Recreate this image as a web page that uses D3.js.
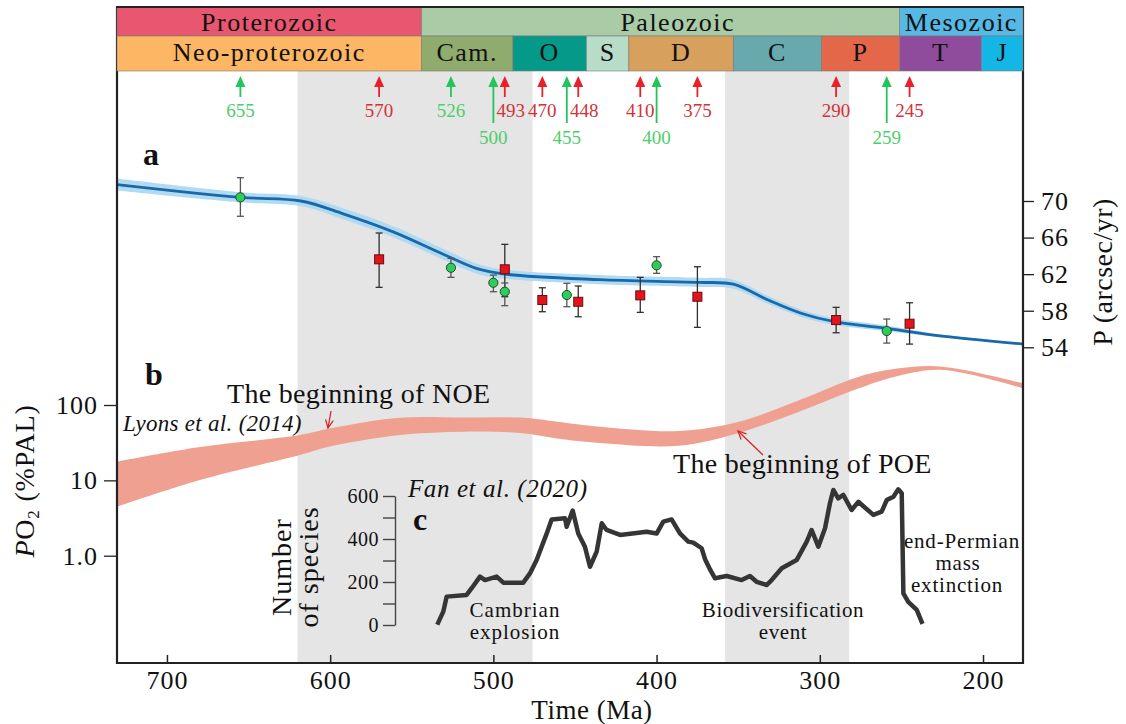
<!DOCTYPE html>
<html><head><meta charset="utf-8">
<script src="https://cdn.jsdelivr.net/npm/d3@7"></script>
<style>
body{margin:0;background:#fff;}
svg{display:block;}
text{fill:#111;}
</style>
</head><body>
<svg id="chart" width="1126" height="724"></svg>
<script>
// ---------------- DATA ----------------
const timeDomain = [730.6, 175.5];               // Ma, left -> right
const timeTicks = [700, 600, 500, 400, 300, 200];

const eraNames  = ["Proterozoic", "Paleozoic", "Mesozoic"];
const eraBounds = [730.6, 544, 251, 175.5];
const periodNames  = ["Neo-proterozoic", "Cam.", "O", "S", "D", "C", "P", "T", "J"];
const periodBounds = [730.6, 544, 488, 443, 417, 353, 299, 251, 201, 175.5];

const greenAges = [655, 526, 500, 455, 400, 259];
const redAges   = [570, 493, 470, 448, 410, 375, 290, 245];

const grayBands = [[620, 476], [358, 282]];

// panel a : precession constant P (arcsec/yr)
const pTicks = [54, 58, 62, 66, 70];
const curveAge = [730.6, 655, 618, 592, 561, 531, 510, 493, 435, 375, 353, 332, 311, 291, 260, 229, 175.5];
const curveP   = [71.8, 70.4, 70.0, 68.6, 66.6, 64.2, 62.6, 62.0, 61.4, 61.1, 60.9, 59.2, 57.7, 56.8, 56.1, 55.3, 54.35];
const curveUnc = [0.65, 0.55, 0.55, 0.6, 0.6, 0.6, 0.55, 0.5, 0.5, 0.5, 0.5, 0.45, 0.4, 0.35, 0.3, 0.15, 0.05];

const greenPtAge = [655, 526, 500, 493, 455, 400, 259];
const greenPtP   = [70.40, 62.70, 61.06, 60.08, 59.72, 62.96, 55.78];
const greenPtLo  = [68.33, 61.65, 60.08, 58.55, 58.44, 62.09, 54.46];
const greenPtHi  = [72.55, 63.73, 61.90, 61.03, 61.00, 63.91, 57.09];

const redPtAge = [570, 493, 470, 448, 410, 375, 290, 245];
const redPtP   = [63.62, 62.53, 59.17, 58.98, 59.68, 59.53, 56.98, 56.58];
const redPtLo  = [60.56, 59.53, 57.89, 57.34, 57.82, 56.18, 55.59, 54.35];
const redPtHi  = [66.50, 65.26, 60.51, 60.70, 61.65, 62.81, 58.37, 58.87];

// panel b : PO2 (%PAL), Lyons et al. (2014)
const o2Ticks = [1, 10, 100];
const o2Age = [730.6, 679.8, 618.5, 598.9, 557.2, 518, 483.7, 461, 434.7, 386.3, 349.5, 312.7, 276, 251.5, 224.6, 175.5];
const o2Hi  = [17.7, 27.7, 40, 49.5, 67.8, 68, 68, 60, 51.5, 45.2, 60, 116, 238, 307, 323, 194];
const o2Lo  = [4.46, 10.1, 21.7, 28.5, 40, 44.2, 42.5, 36, 31.3, 28.8, 42.5, 81.5, 167, 245, 292, 167];

// panel c : number of species, Fan et al. (2020)
const speciesTicks = [0, 100, 200, 300, 400, 500, 600];
const speciesAge = [533.8, 530.7, 528.6, 516.4, 513.3, 508.2, 505.1, 498.0, 493.9, 481.7, 477.6, 473.5, 467.3, 464.3, 456.1, 455.1, 451.4, 448.0, 443.9, 440.8, 436.7, 433.6, 430.6, 422.4, 406.1, 399.9, 395.9, 390.8, 385.7, 380.6, 377.5, 372.4, 370.3, 367.1, 364.2, 361.2, 357, 347.9, 342.8, 338.7, 332.5, 329.5, 323.3, 314.2, 308.0, 305.0, 300.9, 296.8, 293.8, 291.7, 288.7, 285.6, 280.5, 276.4, 267.2, 262.1, 259.0, 254.9, 251.9, 249.8, 248.8, 245.8, 240.6, 237.6];
const speciesNum = [11, 62, 132, 140, 171, 225, 209, 225, 197, 197, 240, 302, 426, 491, 496, 457, 532, 426, 364, 271, 341, 473, 442, 419, 434, 426, 481, 491, 426, 388, 383, 357, 306, 256, 217, 222, 228, 209, 228, 201, 186, 209, 264, 302, 388, 442, 364, 450, 566, 628, 589, 605, 535, 573, 512, 527, 581, 597, 631, 613, 147, 108, 70, 15];

// ---------------- FONT PICK ----------------
function fontAvailable(name) {
  const ctx = document.createElement("canvas").getContext("2d");
  const s = "The beginning of NOE 0123456789 mwil";
  for (const base of ["monospace", "sans-serif"]) {
    ctx.font = `72px ${base}`; const w0 = ctx.measureText(s).width;
    ctx.font = `72px "${name}", ${base}`; const w1 = ctx.measureText(s).width;
    if (Math.abs(w1 - w0) > 0.5) return true;
  }
  return false;
}
const serifCands = ["Liberation Serif", "Times New Roman", "Tinos", "Nimbus Roman", "FreeSerif", "Noto Serif", "DejaVu Serif"];
const FOUND = serifCands.find(fontAvailable) || "serif";
const SERIF = `"${FOUND}", serif`;

// ---------------- STYLE ----------------
const eraColors = ["#E9566F", "#A9CBA6", "#56B9E5"];
const periodColors = ["#FDB664", "#8FAB6E", "#05998A", "#B7DDC9", "#D7A05C", "#68A9AE", "#E4674A", "#8F4C9C", "#14B6E5"];
const eraLabelDx = {"Paleozoic": 17};
const GREEN = "#22C55A", RED = "#E8202A", GREEN_TXT = "#4CCF6A", RED_TXT = "#D0333A";

const X0 = 117, X1 = 1023, YTOP = 7, YMID = 36, YBARB = 71, YBOT = 663;

const svg = d3.select("#chart");
svg.append("rect").attr("width", 1126).attr("height", 724).attr("fill", "#fff");

const x = d3.scaleLinear().domain(timeDomain).range([X0, X1]);
const yP = d3.scaleLinear().domain([54, 70]).range([347.3, 201]);
const yO2 = d3.scaleLog().domain([1, 100]).range([555.7, 405]);
const yC = d3.scaleLinear().domain([0, 600]).range([625, 496]);
const smooth = d3.curveCatmullRom.alpha(0.5);

svg.append("defs").append("clipPath").attr("id", "plot")
  .append("rect").attr("x", X0).attr("y", YBARB).attr("width", X1 - X0).attr("height", YBOT - YBARB);
const plot = svg.append("g").attr("clip-path", "url(#plot)");

// gray bands
plot.selectAll("rect.band").data(grayBands).join("rect")
  .attr("x", d => x(d[0])).attr("width", d => x(d[1]) - x(d[0]))
  .attr("y", YBARB).attr("height", YBOT - YBARB).attr("fill", "#E5E5E5");

// panel b : pink band
const o2Data = o2Age.map((a, i) => ({a, lo: o2Lo[i], hi: o2Hi[i]}));
plot.append("path").datum(o2Data)
  .attr("d", d3.area().x(d => x(d.a)).y0(d => yO2(d.lo)).y1(d => yO2(d.hi)).curve(smooth))
  .attr("fill", "#EFA090");

// panel c : species curve
const spData = speciesAge.map((a, i) => ({a, v: speciesNum[i]}));
plot.append("path").datum(spData)
  .attr("d", d3.line().x(d => x(d.a)).y(d => yC(d.v)))
  .attr("fill", "none").attr("stroke", "#353535").attr("stroke-width", 4.5)
  .attr("stroke-linejoin", "round").attr("stroke-linecap", "square");

const cAxis = svg.append("g").attr("transform", `translate(${395},0)`)
  .call(d3.axisLeft(yC).tickValues(speciesTicks).tickSize(12).tickSizeOuter(0).tickPadding(4)
    .tickFormat(d => d % 200 === 0 ? d : ""));
cAxis.select(".domain").attr("stroke", "#444").attr("stroke-width", 1.4);
cAxis.selectAll(".tick line").attr("stroke", "#444").attr("stroke-width", 1.4);
cAxis.selectAll(".tick text").attr("font-size", 20).attr("fill", "#111").attr("letter-spacing", 0.5);

// panel a : blue curve
const cData = curveAge.map((a, i) => ({a, p: curveP[i], u: curveUnc[i]}));
plot.append("path").datum(cData)
  .attr("d", d3.area().x(d => x(d.a)).y0(d => yP(d.p - d.u)).y1(d => yP(d.p + d.u)).curve(smooth))
  .attr("fill", "#AED9F1").attr("opacity", 0.95);
plot.append("path").datum(cData)
  .attr("d", d3.line().x(d => x(d.a)).y(d => yP(d.p)).curve(smooth))
  .attr("fill", "none").attr("stroke", "#1769AC").attr("stroke-width", 2.8);

// error bars + points
function errBars(ages, lo, hi, color) {
  const g = svg.append("g");
  ages.forEach((a, i) => {
    const px = x(a);
    g.append("line").attr("x1", px).attr("x2", px).attr("y1", yP(lo[i])).attr("y2", yP(hi[i]))
      .attr("stroke", color).attr("stroke-width", 1.3);
    [lo[i], hi[i]].forEach(v => g.append("line").attr("x1", px - 3.5).attr("x2", px + 3.5)
      .attr("y1", yP(v)).attr("y2", yP(v)).attr("stroke", color).attr("stroke-width", 1.3));
  });
}
errBars(redPtAge, redPtLo, redPtHi, "#2f2f2f");
errBars(greenPtAge, greenPtLo, greenPtHi, "#555");
svg.append("g").selectAll("rect").data(redPtAge).join("rect")
  .attr("x", d => x(d) - 4.5).attr("y", (d, i) => yP(redPtP[i]) - 4.5)
  .attr("width", 9).attr("height", 9).attr("fill", "#E3141C").attr("stroke", "#6a0d0d").attr("stroke-width", 1);
svg.append("g").selectAll("circle").data(greenPtAge).join("circle")
  .attr("cx", d => x(d)).attr("cy", (d, i) => yP(greenPtP[i])).attr("r", 4.6)
  .attr("fill", "#2ECC5A").attr("stroke", "#1d4d27").attr("stroke-width", 1);

// ---------------- AXES ----------------
const xAxis = svg.append("g").attr("transform", `translate(0,${YBOT})`)
  .call(d3.axisBottom(x).tickValues(timeTicks).tickSizeInner(-8).tickSizeOuter(0).tickFormat(d3.format("d")));
xAxis.select(".domain").remove();
xAxis.selectAll(".tick line").attr("stroke", "#222").attr("stroke-width", 1.5);
xAxis.selectAll(".tick text").attr("font-size", 26).attr("fill", "#111")
  .attr("y", 26).attr("dy", 0).attr("letter-spacing", 1);

const rAxis = svg.append("g").attr("transform", `translate(${X1},0)`)
  .call(d3.axisRight(yP).tickValues(pTicks).tickSize(11).tickPadding(7));
rAxis.select(".domain").remove();
rAxis.selectAll(".tick line").attr("stroke", "#222").attr("stroke-width", 1.3);
rAxis.selectAll(".tick text").attr("font-size", 26).attr("fill", "#111").attr("letter-spacing", 1);

const lAxis = svg.append("g").attr("transform", `translate(${X0},0)`)
  .call(d3.axisLeft(yO2).tickValues(o2Ticks).tickSize(13).tickPadding(6).tickFormat(d => d === 1 ? "1.0" : d));
lAxis.select(".domain").remove();
lAxis.selectAll(".tick line").attr("stroke", "#222").attr("stroke-width", 1.3);
lAxis.selectAll(".tick text").attr("font-size", 26).attr("fill", "#111").attr("letter-spacing", 1);

// frame lines
svg.append("line").attr("x1", X0).attr("x2", X1).attr("y1", YBOT).attr("y2", YBOT).attr("stroke", "#222").attr("stroke-width", 2.2);
svg.append("line").attr("x1", X0).attr("x2", X0).attr("y1", YTOP).attr("y2", YBOT + 1).attr("stroke", "#222").attr("stroke-width", 2.2);
svg.append("line").attr("x1", X1).attr("x2", X1).attr("y1", YTOP).attr("y2", YBOT + 1).attr("stroke", "#222").attr("stroke-width", 2.2);

// ---------------- TIME SCALE BAR ----------------
const bar = svg.append("g");
eraNames.forEach((n, i) => {
  const xa = x(eraBounds[i]), xb = x(eraBounds[i + 1]);
  bar.append("rect").attr("x", xa).attr("y", YTOP).attr("width", xb - xa).attr("height", YMID - YTOP)
    .attr("fill", eraColors[i]).attr("stroke", "#7a7a7a").attr("stroke-width", 0.6);
  bar.append("text").attr("x", (xa + xb) / 2 + (eraLabelDx[n] || 0)).attr("y", 31).attr("text-anchor", "middle")
    .attr("font-size", 26).attr("letter-spacing", 1.5).text(n);
});
periodNames.forEach((n, i) => {
  const xa = x(periodBounds[i]), xb = x(periodBounds[i + 1]);
  bar.append("rect").attr("x", xa).attr("y", YMID).attr("width", xb - xa).attr("height", YBARB - YMID)
    .attr("fill", periodColors[i]).attr("stroke", "#7a7a7a").attr("stroke-width", 0.6);
  bar.append("text").attr("x", (xa + xb) / 2).attr("y", 61).attr("text-anchor", "middle")
    .attr("font-size", 26).attr("letter-spacing", 1.5).text(n);
});
svg.append("line").attr("x1", X0 - 1).attr("x2", X1 + 1).attr("y1", YTOP).attr("y2", YTOP).attr("stroke", "#222").attr("stroke-width", 2.2);

// ---------------- AGE ARROWS ----------------
const isLong = a => redAges.some(r => Math.abs(x(r) - x(a)) < 25);
const markers = greenAges.map(a => ({a, g: true, long: isLong(a)}))
  .concat(redAges.map(a => ({a, g: false, long: false})));
markers.forEach(m => {
  m.px = x(m.a);
  m.shift = !m.g && greenAges.some(ga => isLong(ga) && x(ga) < m.px && m.px - x(ga) < 15);
});
const arr = svg.append("g");
markers.forEach(m => {
  const col = m.g ? GREEN : RED;
  arr.append("line").attr("x1", m.px).attr("x2", m.px).attr("y1", 84).attr("y2", m.long ? 123 : 97)
    .attr("stroke", col).attr("stroke-width", 1.8);
  arr.append("path").attr("d", `M${m.px},76 L${m.px - 5},87 L${m.px + 5},87 Z`).attr("fill", col);
  arr.append("text").attr("x", m.px + (m.shift ? 6 : 0)).attr("y", m.long ? 144 : 117)
    .attr("text-anchor", "middle").attr("font-size", 19)
    .style("fill", m.g ? GREEN_TXT : RED_TXT).text(m.a);
});

// ---------------- TEXTS ----------------
const T = (tx, ty, s, opts = {}) => {
  const t = svg.append("text").attr("x", tx).attr("y", ty).text(s)
    .attr("font-size", opts.size || 26).attr("text-anchor", opts.anchor || "start");
  if (opts.bold) t.attr("font-weight", "bold");
  if (opts.italic) t.attr("font-style", "italic");
  if (opts.ls != null) t.attr("letter-spacing", opts.ls);
  return t;
};
T(143, 165, "a", {size: 32, bold: true});
T(145, 385, "b", {size: 32, bold: true});
T(413, 530, "c", {size: 32, bold: true});

T(227, 403, "The beginning of NOE", {size: 28, ls: 0.3});
T(673, 473, "The beginning of POE", {size: 28, ls: 0.3});
T(123, 431, "Lyons et al. (2014)", {size: 23, italic: true, ls: 0.3});
T(408, 497, "Fan et al. (2020)", {size: 25, italic: true, ls: 0.6});

T(515, 617, "Cambrian", {size: 21, anchor: "middle", ls: 1});
T(515, 639, "explosion", {size: 21, anchor: "middle", ls: 1});
T(783, 617, "Biodiversification", {size: 21, anchor: "middle", ls: 0.6});
T(783, 639, "event", {size: 21, anchor: "middle", ls: 0.6});
T(962, 548, "end-Permian", {size: 21, anchor: "middle", ls: 0.8});
T(958, 570, "mass", {size: 21, anchor: "middle", ls: 0.8});
T(957, 592, "extinction", {size: 21, anchor: "middle", ls: 0.8});

T(592, 719, "Time (Ma)", {size: 27, anchor: "middle", ls: 0.5});

// rotated titles
svg.append("text").attr("transform", "translate(1112,272) rotate(-90)").attr("text-anchor", "middle")
  .attr("font-size", 28).attr("letter-spacing", 0.5).text("P (arcsec/yr)");
const po = svg.append("text").attr("transform", "translate(34,481) rotate(-90)").attr("text-anchor", "middle")
  .attr("font-size", 28).attr("letter-spacing", 0.8);
po.append("tspan").attr("font-style", "italic").text("P");
po.append("tspan").text("O");
po.append("tspan").attr("font-size", 17).attr("dy", 5).text("2");
po.append("tspan").attr("dy", -5).text(" (%PAL)");
svg.append("text").attr("transform", "translate(291,567) rotate(-90)").attr("text-anchor", "middle")
  .attr("font-size", 28).attr("letter-spacing", 1).text("Number");
svg.append("text").attr("transform", "translate(318,567) rotate(-90)").attr("text-anchor", "middle")
  .attr("font-size", 28).attr("letter-spacing", 1).text("of species");

// annotation arrows
function annotArrow(x1, y1, x2, y2) {
  const g = svg.append("g").attr("stroke", "#D6262B").attr("stroke-width", 1.3).attr("fill", "none");
  g.append("line").attr("x1", x1).attr("y1", y1).attr("x2", x2).attr("y2", y2);
  const ang = Math.atan2(y2 - y1, x2 - x1), L = 9, w = 0.45;
  const p1 = [x2 - L * Math.cos(ang - w), y2 - L * Math.sin(ang - w)];
  const p2 = [x2 - L * Math.cos(ang + w), y2 - L * Math.sin(ang + w)];
  g.append("path").attr("d", `M${p1[0]},${p1[1]} L${x2},${y2} L${p2[0]},${p2[1]}`);
}
annotArrow(331, 411, 328, 428);
annotArrow(763, 455, 738, 431);

// apply serif font everywhere
svg.selectAll("text, g").attr("font-family", SERIF);
</script>
</body></html>
